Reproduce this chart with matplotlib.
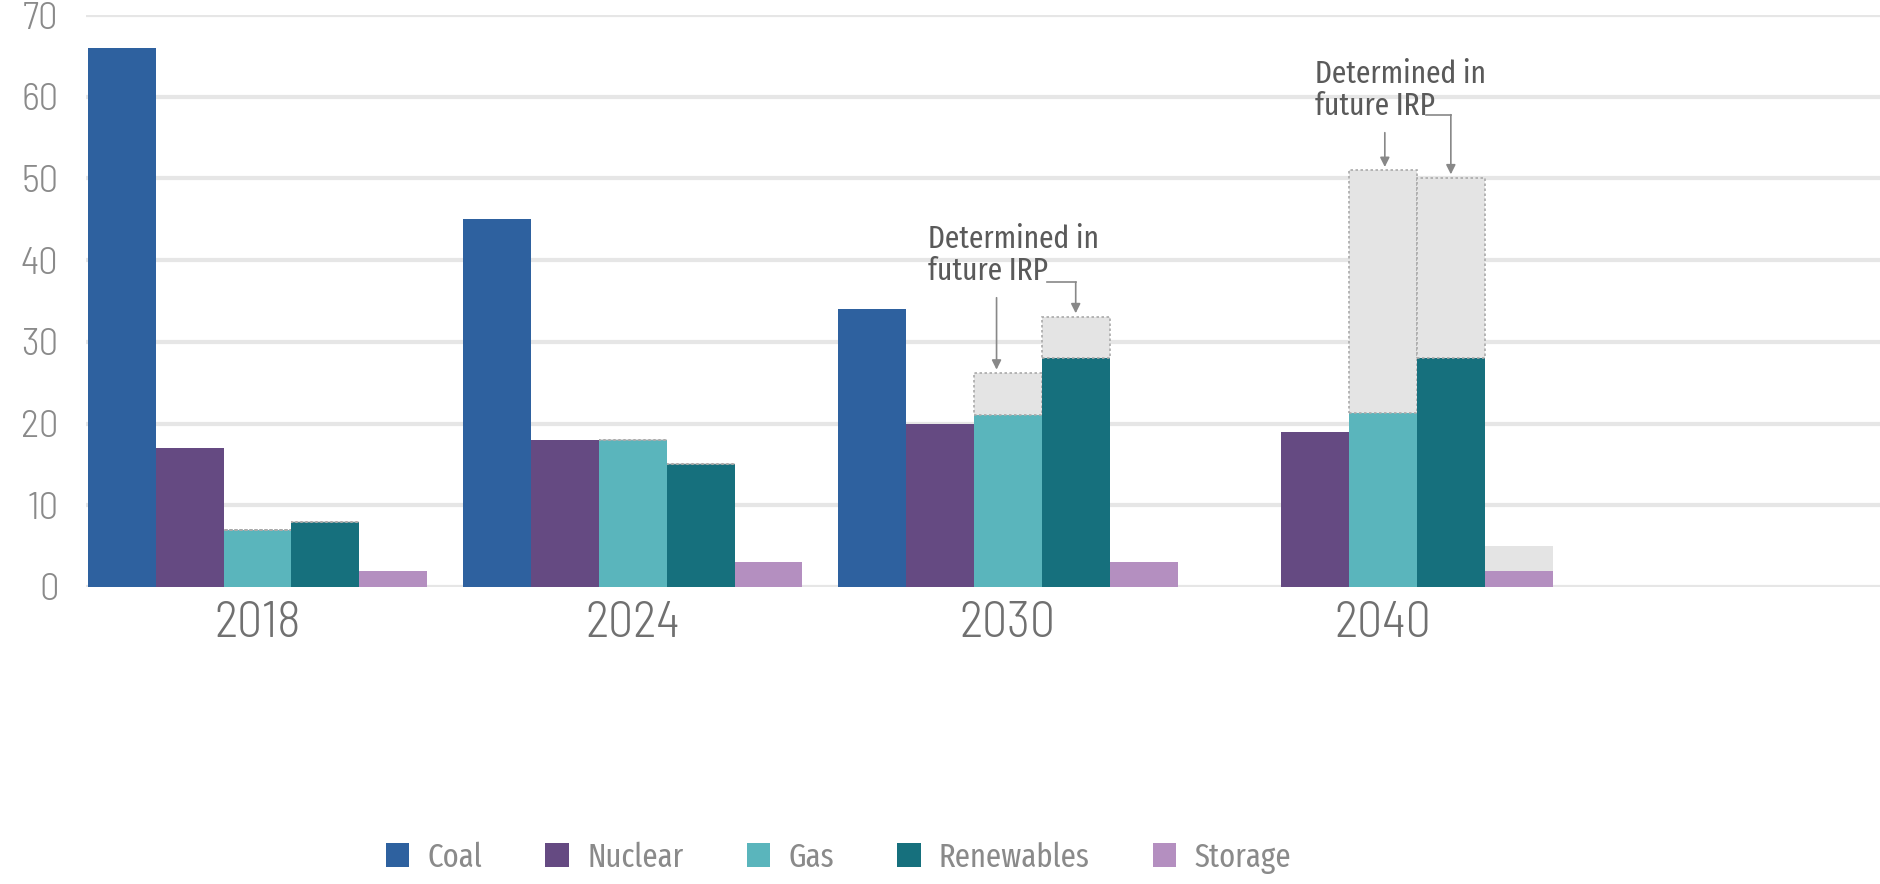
import os
import matplotlib
matplotlib.use('Agg')
import matplotlib.pyplot as plt
import numpy as np
from matplotlib import font_manager

BAD = ['bold', 'italic', 'oblique', 'black', 'thin', 'medium', 'semibold', 'extrabold', 'heavy']


def pick(patterns, allow_light=False):
    files = sorted(set(f.fname for f in font_manager.fontManager.ttflist))
    for pat in patterns:
        for fn in files:
            b = os.path.basename(fn).lower().replace('-', '').replace('_', '').replace(' ', '')
            if pat not in b:
                continue
            bad = BAD + ([] if allow_light else ['light', 'extralight'])
            rest = b.replace(pat, '')
            if any(w in rest for w in bad):
                continue
            return fn
    return None


narrow_file = pick(['extracondensed', 'narrow', 'condensed', 'semicondensed'])
light_file = pick(['semicondensedlight', 'condensedlight'], allow_light=True)

years = ['2018', '2024', '2030', '2040']
sources = ['Coal', 'Nuclear', 'Gas', 'Renewables', 'Storage']
colors = ['#2e619f', '#654a82', '#5ab5bc', '#16707d', '#b48fc0']

coal = [66, 45, 34, 0]
nuclear = [17, 18, 20, 19]
gas = [7, 18, 21, 21.3]
renewables = [8, 15, 28, 28]
storage = [2, 3, 3, 2]

# capacity still to be decided in a later IRP (stacked on top)
gas_tbd = [0, 0, 5.2, 29.7]
renew_tbd = [0, 0, 5, 22]
storage_tbd = [0, 0, 0, 3]

values = [coal, nuclear, gas, renewables, storage]
tbd = [None, None, gas_tbd, renew_tbd, storage_tbd]


def txtfont(size):
    if narrow_file:
        return font_manager.FontProperties(fname=narrow_file, size=size)
    return font_manager.FontProperties(family=['Roboto', 'DejaVu Sans'], size=size * 0.75)


def tickfont(size):
    if light_file:
        return font_manager.FontProperties(fname=light_file, size=size)
    return font_manager.FontProperties(family=['Roboto', 'DejaVu Sans'], weight='light', size=size * 0.85)


fig = plt.figure(figsize=(18.8, 8.84), dpi=100)
ax = fig.add_axes([0.046, 0.336, 0.954, 0.647])

x = np.arange(len(years))
w = 0.181
offsets = [-2 * w, -w, 0, w, 2 * w]

for vals, extra, col, off, name in zip(values, tbd, colors, offsets, sources):
    ax.bar(x + off, vals, width=w, color=col, label=name, zorder=2)
    if extra is not None:
        ec = '#aaaaaa' if name != 'Storage' else 'none'
        ax.bar(x + off, extra, width=w, bottom=vals, color='#e4e4e4',
               edgecolor=ec, linestyle=(0, (1.5, 1.5)), linewidth=1.2, zorder=2)

ax.set_xlim(-0.456, 4.325)
ax.set_ylim(0, 70)
ax.set_yticks(range(0, 71, 10))
ax.yaxis.grid(True, color='#e6e6e6', linewidth=3, zorder=0)
ax.set_axisbelow(True)
for s in ax.spines.values():
    s.set_visible(False)
ax.tick_params(axis='both', length=0)
ax.tick_params(axis='y', labelcolor='#8a8a8a', pad=20)
ax.set_xticks(x)
ax.set_xticklabels(years, color='#707070')
ax.tick_params(axis='x', pad=10)
for lab in ax.get_yticklabels():
    lab.set_fontproperties(tickfont(28))
for lab in ax.get_xticklabels():
    lab.set_fontproperties(tickfont(36))

# annotations: text, one straight arrow to the gas bar, one bent arrow to renewables
note = 'Determined in\nfuture IRP'
acol = '#5a5a5a'
lcol = '#888888'
arrow = dict(arrowstyle='-|>', color=lcol, lw=1.2, mutation_scale=14, shrinkA=0, shrinkB=0)
for g, top_gas, top_ren, ty, a_start, a_x, b_y, b_x0 in [
        (2, 26.2, 33, 40.6, 35.4, 2 - 0.03, 37.3, 2 + 0.105),
        (3, 51, 50, 60.8, 55.6, 3 + 0.005, 57.8, 3 + 0.115)]:
    ax.text(g - (0.213 if g == 2 else 0.18), ty, note, fontproperties=txtfont(23),
            color=acol, ha='left', va='center', linespacing=1.05)
    ax.annotate('', xy=(a_x, top_gas + 0.4), xytext=(a_x, a_start), arrowprops=arrow)
    ax.plot([b_x0, g + w], [b_y, b_y], color=lcol, lw=1.2)
    ax.annotate('', xy=(g + w, top_ren + 0.5), xytext=(g + w, b_y), arrowprops=arrow)

handles, labels = ax.get_legend_handles_labels()
leg = fig.legend(handles[:5], labels[:5], loc='center', bbox_to_anchor=(0.446, 0.03),
                 ncol=5, frameon=False, prop=txtfont(24), handlelength=0.7,
                 handleheight=0.7, columnspacing=1.9, handletextpad=0.55)
for t in leg.get_texts():
    t.set_color('#8a8a8a')

fig.savefig('out.png', dpi=100)
